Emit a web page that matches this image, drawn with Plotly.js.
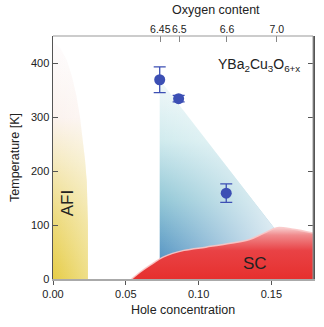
<!DOCTYPE html>
<html>
<head>
<meta charset="utf-8">
<script src="https://cdn.plot.ly/plotly-3.0.1.min.js"></script>
<style>
  html, body { margin: 0; padding: 0; background: #fff; }
  #chart { width: 324px; height: 327px; }
</style>
</head>
<body>
<div id="chart"></div>
<script>
// measured points (hole concentration vs temperature)
const holeConc = [0.0733, 0.0863, 0.119];
const tempK = [369, 334, 159];
const tempErr = [24, 6, 17];

// superconducting dome outline
const scHole = [0.054, 0.060, 0.067, 0.076, 0.090, 0.105, 0.122, 0.135, 0.145, 0.154, 0.165, 0.179];
const scTemp = [0, 13, 26, 41, 53, 59, 66, 73, 85, 95, 92, 85];

// antiferromagnetic insulator region
const afiHole = [0, 0.024, 0.024, 0.0238, 0.0232, 0.022, 0.0205, 0.0185, 0.016, 0.013, 0.0095, 0.005, 0];
const afiTemp = [0, 0, 100, 140, 180, 220, 260, 300, 340, 375, 405, 428, 440];

// shaded wedge under the points
const wedgeHole = [0.0733, 0.0733, 0.1515, 0.1515];
const wedgeTemp = [0, 369, 96, 0];

// top axis: oxygen content at given hole concentrations
const oxyTickHole = [0.0737, 0.0867, 0.1195, 0.1538];
const oxyTickText = ["6.45", "6.5", "6.6", "7.0"];

const pointColor = "#3c4fb4";
const font = "Liberation Sans, Arial, sans-serif";

const traces = [
  {
    type: "scatter",
    mode: "lines",
    x: afiHole,
    y: afiTemp,
    fill: "toself",
    line: { width: 0 },
    fillgradient: {
      type: "vertical",
      colorscale: [[0, "#e6cd48"], [0.25, "#edda7c"], [0.5, "#f5eac0"], [0.68, "#fbf2ee"], [1, "#fefcfd"]],
    },
    hoverinfo: "skip",
    showlegend: false,
  },
  {
    type: "scatter",
    mode: "lines",
    x: afiHole,
    y: afiTemp,
    fill: "toself",
    line: { width: 0 },
    fillgradient: {
      type: "horizontal",
      colorscale: [[0, "rgba(255,255,255,0)"], [1, "rgba(255,255,255,0.35)"]],
    },
    hoverinfo: "skip",
    showlegend: false,
  },
  {
    type: "scatter",
    mode: "lines",
    x: wedgeHole,
    y: wedgeTemp,
    fill: "toself",
    line: { width: 0 },
    fillgradient: {
      type: "vertical",
      colorscale: [[0, "#4a8bbe"], [0.1, "#5896c4"], [0.4, "#94c8d7"], [0.7, "#d1ebee"], [1, "#f2f9fa"]],
    },
    hoverinfo: "skip",
    showlegend: false,
  },
  {
    type: "scatter",
    mode: "lines",
    x: wedgeHole,
    y: wedgeTemp,
    fill: "toself",
    line: { width: 0 },
    fillgradient: {
      type: "horizontal",
      colorscale: [[0, "rgba(255,255,255,0)"], [1, "rgba(255,255,255,0.75)"]],
    },
    hoverinfo: "skip",
    showlegend: false,
  },
  {
    type: "scatter",
    mode: "lines",
    x: scHole,
    y: scTemp,
    fill: "tozeroy",
    line: { width: 1.5, shape: "spline", color: "rgba(250,200,200,0.9)" },
    fillgradient: {
      type: "vertical",
      colorscale: [[0, "#e6302e"], [0.55, "#e94245"], [0.85, "#f08a8c"], [1, "#f8d0d0"]],
    },
    hoverinfo: "skip",
    showlegend: false,
  },
  {
    type: "scatter",
    mode: "markers",
    x: holeConc,
    y: tempK,
    marker: { size: 11, color: pointColor },
    error_y: { type: "data", array: tempErr, visible: true, width: 6, thickness: 1.3, color: pointColor },
    showlegend: false,
  },
  {
    type: "scatter",
    mode: "markers",
    x: oxyTickHole,
    y: [0, 0, 0, 0],
    xaxis: "x2",
    marker: { opacity: 0 },
    hoverinfo: "skip",
    showlegend: false,
  },
];

const layout = {
  width: 324,
  height: 327,
  margin: { l: 53, r: 11, t: 36, b: 48 },
  paper_bgcolor: "#fff",
  plot_bgcolor: "#fff",
  font: { family: font, size: 11, color: "#222" },
  xaxis: {
    range: [0, 0.1786],
    tickvals: [0, 0.05, 0.1, 0.15],
    ticktext: ["0.00", "0.05", "0.10", "0.15"],
    ticks: "outside",
    ticklen: 4,
    tickcolor: "#555",
    showline: true,
    linecolor: "#aaa",
    linewidth: 2,
    showgrid: false,
    zeroline: false,
    title: { text: "Hole concentration", font: { size: 12.5 }, standoff: 6 },
  },
  xaxis2: {
    overlaying: "x",
    side: "top",
    range: [0, 0.1786],
    tickvals: oxyTickHole,
    ticktext: oxyTickText,
    tickangle: 0,
    tickfont: { size: 10.5 },
    ticks: "inside",
    ticklen: 6,
    tickcolor: "#888",
    showline: false,
    showgrid: false,
    zeroline: false,
  },
  yaxis: {
    range: [0, 450],
    tickvals: [0, 100, 200, 300, 400],
    ticks: "inside",
    ticklen: 5,
    tickcolor: "#555",
    mirror: "ticks",
    showline: true,
    linecolor: "#555",
    linewidth: 1.5,
    showgrid: false,
    zeroline: false,
    title: { text: "Temperature [K]", font: { size: 12.5 }, standoff: 8 },
  },
  shapes: [
    { type: "line", xref: "paper", yref: "paper", x0: 0, x1: 1, y0: 1, y1: 1, line: { color: "#999", width: 1 } },
    { type: "line", xref: "paper", yref: "paper", x0: 1, x1: 1, y0: 0, y1: 1, line: { color: "#999", width: 1 } },
  ],
  annotations: [
    { text: "Oxygen content", xref: "paper", yref: "paper", x: 0.625, y: 1, yshift: 26, showarrow: false, font: { size: 12.5 }, yanchor: "middle" },
    { text: "YBa<sub>2</sub>Cu<sub>3</sub>O<sub>6+x</sub>", x: 0.1415, y: 396, showarrow: false, font: { size: 14 } },
    { text: "AFI", x: 0.0102, y: 140, textangle: -90, showarrow: false, font: { size: 17 } },
    { text: "SC", x: 0.139, y: 29, showarrow: false, font: { size: 17 } },
  ],
};

Plotly.newPlot("chart", traces, layout, { staticPlot: true, displayModeBar: false });
</script>
</body>
</html>
